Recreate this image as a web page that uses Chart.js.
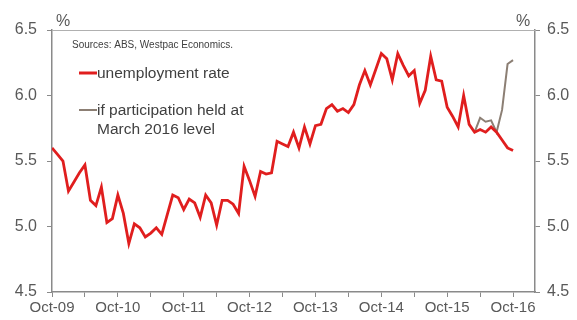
<!DOCTYPE html>
<html>
<head>
<meta charset="utf-8">
<script src="https://cdn.jsdelivr.net/npm/chart.js@4"></script>
<style>
  html, body { margin: 0; padding: 0; background: #fff; }
  #wrap { width: 577px; height: 320px; position: relative; }
</style>
</head>
<body>
<div id="wrap"><canvas id="chart" width="577" height="320"></canvas></div>
<script>
// Months from Oct-09 to Oct-16 (index 0..84)
const monthNames = ['Oct', 'Nov', 'Dec', 'Jan', 'Feb', 'Mar', 'Apr', 'May', 'Jun', 'Jul', 'Aug', 'Sep'];
const startYear = 9;

// Unemployment rate, %
const unemploymentRate = [
    5.60, 5.55, 5.50, 5.27, 5.34, 5.41, 5.47, 5.20, 5.16, 5.30, 5.03, 5.06,
    5.24, 5.10, 4.87, 5.02, 4.99, 4.92, 4.95, 4.99, 4.94, 5.09, 5.24, 5.22,
    5.13, 5.21, 5.18, 5.07, 5.24, 5.18, 5.01, 5.20, 5.20, 5.17, 5.10, 5.46,
    5.35, 5.23, 5.42, 5.40, 5.41, 5.65, 5.63, 5.61, 5.72, 5.60, 5.76, 5.63,
    5.77, 5.78, 5.90, 5.93, 5.88, 5.90, 5.87, 5.93, 6.08, 6.19, 6.08, 6.20,
    6.32, 6.28, 6.12, 6.32, 6.23, 6.15, 6.19, 5.94, 6.04, 6.30, 6.12, 6.11,
    5.91, 5.84, 5.76, 6.00, 5.78, 5.72, 5.74, 5.72, 5.76, 5.72, 5.66, 5.60,
    5.58
];

// If participation held at March 2016 level (starts Mar-16, index 77)
const participationStart = 77;
const participationHeld = [5.72, 5.83, 5.80, 5.81, 5.72, 5.89, 6.24, 6.27];

const yTicks = [4.5, 5.0, 5.5, 6.0, 6.5];

function monthLabel(i) {
    const m = i % 12;
    const year = startYear + Math.floor((i + 9) / 12);
    return monthNames[m] + '-' + String(year).padStart(2, '0');
}

const redPoints = unemploymentRate.map((v, i) => ({ x: i, y: v }));
const greyPoints = participationHeld.map((v, i) => ({ x: participationStart + i, y: v }));

const axisColor = '#8a8a8a';
const textColor = '#595959';
const fontFamily = '"Liberation Sans", Arial, sans-serif';

// Draws the top border, % labels and the in-chart legend
const annotations = {
    id: 'annotations',
    afterDraw(chart) {
        const ctx = chart.ctx;
        const a = chart.chartArea;
        ctx.save();
        ctx.strokeStyle = '#b0b0b0';
        ctx.lineWidth = 1;
        ctx.beginPath();
        ctx.moveTo(a.left, a.top + 0.5);
        ctx.lineTo(a.right, a.top + 0.5);
        ctx.stroke();

        ctx.fillStyle = textColor;
        ctx.font = '16px ' + fontFamily;
        ctx.textBaseline = 'alphabetic';
        ctx.textAlign = 'left';
        ctx.fillText('%', 56, 26);
        ctx.fillText('%', 516, 26);

        ctx.font = '10px ' + fontFamily;
        ctx.fillStyle = '#404040';
        ctx.fillText('Sources: ABS, Westpac Economics.', 72, 48);

        ctx.font = '15.5px ' + fontFamily;
        ctx.fillStyle = '#404040';
        ctx.lineWidth = 3;
        ctx.strokeStyle = '#e01e1e';
        ctx.beginPath();
        ctx.moveTo(79, 73);
        ctx.lineTo(97, 73);
        ctx.stroke();
        ctx.fillText('unemployment rate', 97, 78);

        ctx.lineWidth = 2;
        ctx.strokeStyle = '#8c7f74';
        ctx.beginPath();
        ctx.moveTo(79, 110);
        ctx.lineTo(97, 110);
        ctx.stroke();
        ctx.fillText('if participation held at', 97, 115);
        ctx.fillText('March 2016 level', 97, 134);
        ctx.restore();
    }
};

const yAxis = (position, width, pad) => ({
    type: 'linear',
    position: position,
    min: 4.5,
    max: 6.5,
    afterBuildTicks: (axis) => { axis.ticks = yTicks.map(v => ({ value: v })); },
    afterFit: (axis) => { axis.width = width; },
    border: { display: true, color: axisColor, width: 1.5 },
    grid: { drawOnChartArea: false, drawTicks: true, tickLength: 5, color: axisColor },
    ticks: {
        color: textColor,
        font: { size: 16, family: fontFamily },
        padding: pad,
        callback: (v) => v.toFixed(1)
    }
});

new Chart(document.getElementById('chart').getContext('2d'), {
    type: 'line',
    data: {
        datasets: [
            {
                label: 'unemployment rate',
                data: redPoints,
                borderColor: '#e01e1e',
                borderWidth: 2.8,
                pointRadius: 0,
                tension: 0,
                yAxisID: 'y'
            },
            {
                label: 'if participation held at March 2016 level',
                data: greyPoints,
                borderColor: '#8c7f74',
                borderWidth: 2,
                pointRadius: 0,
                tension: 0,
                yAxisID: 'y'
            }
        ]
    },
    options: {
        responsive: false,
        animation: false,
        layout: { padding: { top: 30, left: 0, right: 0, bottom: 0 } },
        plugins: {
            legend: { display: false },
            tooltip: { enabled: false }
        },
        scales: {
            x: {
                type: 'linear',
                min: 0,
                max: 88,
                afterBuildTicks: (axis) => {
                    const t = [];
                    for (let i = 0; i <= 84; i += 6) t.push({ value: i });
                    axis.ticks = t;
                },
                afterFit: (axis) => { axis.height = 28; },
                border: { display: true, color: axisColor, width: 1.5 },
                grid: { drawOnChartArea: false, drawTicks: true, tickLength: 5, color: axisColor },
                ticks: {
                    color: textColor,
                    font: { size: 15, family: fontFamily },
                    padding: 2,
                    maxRotation: 0,
                    autoSkip: false,
                    callback: (v) => (v % 12 === 0 ? monthLabel(v) : '')
                }
            },
            y: yAxis('left', 52, 10),
            y2: yAxis('right', 42, 7)
        }
    },
    plugins: [annotations]
});
</script>
</body>
</html>
